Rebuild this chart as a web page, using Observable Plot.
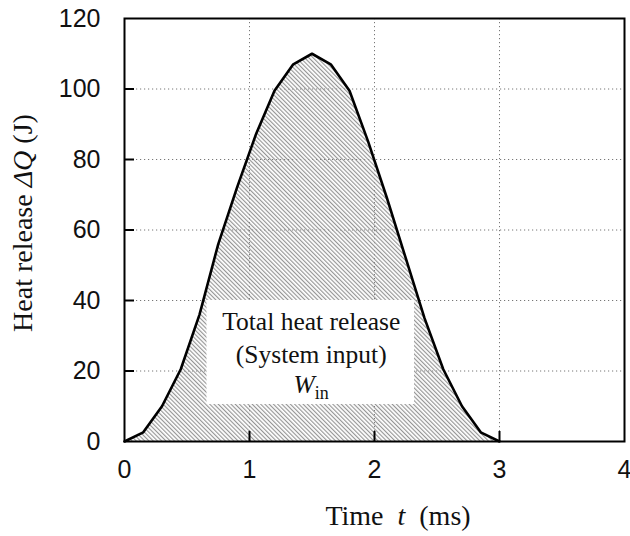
<!DOCTYPE html>
<html>
<head>
<meta charset="utf-8">
<script src="https://cdn.jsdelivr.net/npm/d3@7"></script>
<script src="https://cdn.jsdelivr.net/npm/@observablehq/plot@0.6"></script>
<style>
  html, body { margin: 0; padding: 0; background: white; }
</style>
</head>
<body>
<div id="chart"></div>
<script>
// Time t (ms)
const timeMs = [0, 0.15, 0.3, 0.45, 0.6, 0.75, 0.9, 1.05, 1.2, 1.35, 1.5, 1.65, 1.8, 1.95, 2.1, 2.25, 2.4, 2.55, 2.7, 2.85, 3.0];
// Heat release ΔQ (J)
const heatJ = [0, 2.6, 10, 20.5, 36, 56, 72, 87, 99.5, 107, 110, 107, 99.5, 85, 69, 52, 35, 20.5, 10, 2.6, 0];

const xTicks = [0, 1, 2, 3, 4];
const yTicks = [0, 20, 40, 60, 80, 100, 120];
const xInnerTicks = [1, 2, 3];
const yInnerTicks = [20, 40, 60, 80, 100];

// annotation box (data units) and its text
const boxT = [0.66, 2.32];
const boxQ = [10.5, 40];
const noteLines = ["Total heat release", "(System input)"];
const noteSymbol = "W";
const noteSub = "in";

const data = timeMs.map((t, i) => ({t, q: heatJ[i]}));

const W = 630, H = 536;
const mL = 124, mR = 6, mT = 18, mB = 95;
const plotW = W - mL - mR, plotH = H - mT - mB;
const tickLen = 10;
const serif = "'Liberation Serif', 'Times New Roman', serif";
const sans = "'Liberation Sans', Arial, sans-serif";

const svg = Plot.plot({
  width: W,
  height: H,
  marginLeft: mL,
  marginRight: mR,
  marginTop: mT,
  marginBottom: mB,
  x: {domain: [0, 4]},
  y: {domain: [0, 120]},
  style: {background: "white", color: "#111"},
  marks: [
    Plot.gridX(xInnerTicks, {stroke: "#777", strokeOpacity: 1, strokeWidth: 1, strokeDasharray: "1.2,2.8"}),
    Plot.gridY(yInnerTicks, {stroke: "#777", strokeOpacity: 1, strokeWidth: 1, strokeDasharray: "1.2,2.8"}),
    Plot.areaY(data, {x: "t", y: "q", fill: "url(#hatch)"}),
    Plot.rect([0], {x1: boxT[0], x2: boxT[1], y1: boxQ[0], y2: boxQ[1], fill: "white"}),
    Plot.lineY(data, {x: "t", y: "q", stroke: "black", strokeWidth: 2.6, strokeLinejoin: "round"}),
    Plot.ruleX(xInnerTicks, {stroke: "black", strokeWidth: 2, insetTop: plotH - tickLen}),
    Plot.ruleY(yInnerTicks, {stroke: "black", strokeWidth: 2, insetRight: plotW - tickLen}),
    Plot.axisX({ticks: xTicks, tickSize: 0, tickPadding: 19, fontSize: 25, fontFamily: sans, label: null, tickFormat: d => String(d)}),
    Plot.axisY({ticks: yTicks, tickSize: 0, tickPadding: 24, fontSize: 25, fontFamily: sans, label: null, tickFormat: d => String(d)}),
    Plot.frame({stroke: "black", strokeWidth: 2})
  ]
});

const s = d3.select(svg);
// hatch pattern
const defs = s.insert("defs", ":first-child");
const pat = defs.append("pattern")
  .attr("id", "hatch")
  .attr("patternUnits", "userSpaceOnUse")
  .attr("width", 3).attr("height", 3)
  .attr("patternTransform", "rotate(-45)");
pat.append("line").attr("x1", 0.5).attr("y1", 0).attr("x2", 0.5).attr("y2", 3)
  .attr("stroke", "#959595").attr("stroke-width", 1.3);

// note text inside the box, placed by the scales
const xs = svg.scale("x"), ys = svg.scale("y");
const cx = xs.apply((boxT[0] + boxT[1]) / 2) + 1;
const yTop = ys.apply(boxQ[1]);
const g = s.append("g").attr("font-family", serif).attr("font-size", 25.5).attr("fill", "#111").attr("text-anchor", "middle");
noteLines.forEach((line, i) => {
  g.append("text").attr("x", cx).attr("y", yTop + 30 + i * 33).text(line);
});
const wt = g.append("text").attr("x", cx).attr("y", yTop + 30 + 2 * 31.5);
wt.append("tspan").attr("font-style", "italic").text(noteSymbol);
wt.append("tspan").attr("font-size", 18).attr("dy", 6).text(noteSub);

// axis titles
const xt = s.append("text").attr("font-family", serif).attr("font-size", 28).attr("fill", "#111")
  .attr("text-anchor", "middle").attr("x", 398).attr("y", 525);
xt.append("tspan").text("Time");
xt.append("tspan").attr("dx", 14).attr("font-style", "italic").text("t");
xt.append("tspan").attr("dx", 14).text("(ms)");

const yt = s.append("text").attr("font-family", serif).attr("font-size", 28).attr("fill", "#111")
  .attr("text-anchor", "middle").attr("transform", "translate(32,223) rotate(-90)");
yt.append("tspan").text("Heat release ");
yt.append("tspan").attr("font-style", "italic").text("ΔQ");
yt.append("tspan").text(" (J)");

document.getElementById("chart").appendChild(svg);
</script>
</body>
</html>
